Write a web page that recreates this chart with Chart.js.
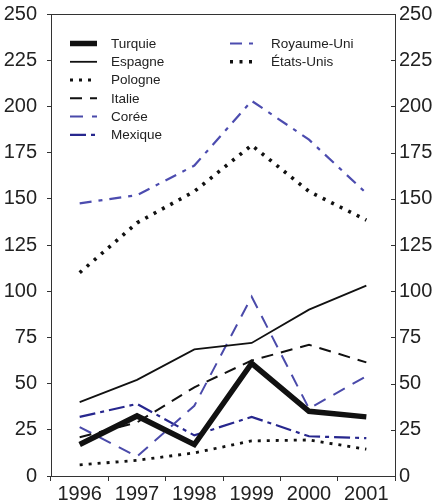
<!DOCTYPE html>
<html>
<head>
<meta charset="utf-8">
<script src="https://cdn.jsdelivr.net/npm/chart.js@4/dist/chart.umd.min.js"></script>
<style>
  html, body { margin: 0; padding: 0; background: #fff; }
  #wrap { position: relative; width: 436px; height: 504px; }
</style>
</head>
<body>
<div id="wrap"><canvas id="chart" width="436" height="504"></canvas></div>
<script>
(function(){
  'use strict';

  var years = ['1996', '1997', '1998', '1999', '2000', '2001'];
  var yTicks = [0, 25, 50, 75, 100, 125, 150, 175, 200, 225, 250];

  var turquie    = [17, 32.5, 17, 61, 35, 32];
  var espagne    = [40, 52, 68.5, 72, 90, 103];
  var pologne    = [6, 8.5, 12.5, 19, 19.5, 14.5];
  var italie     = [21, 29, 48, 62.5, 71, 61.5];
  var coree      = [26.5, 10.5, 38, 97, 36.5, 54];
  var mexique    = [32, 39, 22, 32, 21.5, 20.5];
  var royaumeUni = [147.5, 152, 168, 203, 182, 153];
  var etatsUnis  = [110, 137, 154, 179, 154, 138.5];

  var BLACK = '#111111';

  function line(label, data, color, width, dash, legendRow, legendCol){
    return {
      label: label,
      data: data,
      borderColor: color,
      backgroundColor: color,
      borderWidth: width,
      borderDash: dash,
      borderCapStyle: 'butt',
      borderJoinStyle: 'miter',
      pointRadius: 0,
      pointHoverRadius: 0,
      tension: 0,
      fill: false,
      legendRow: legendRow,
      legendCol: legendCol
    };
  }

  // legend inside the plot, two columns, plus the box round the plot
  var framePlugin = {
    id: 'frame',
    afterDatasetsDraw: function(chart){
      var ctx = chart.ctx;
      var a = chart.chartArea;
      ctx.save();
      ctx.strokeStyle = '#333';
      ctx.lineWidth = 1;
      ctx.setLineDash([]);
      ctx.strokeRect(a.left + 0.5, a.top + 0.5, a.right - a.left, a.bottom - a.top);

      // inward ticks on right axis
      var yr = chart.scales.y2;
      yr.ticks.forEach(function(t){
        var py = Math.round(yr.getPixelForValue(t.value)) + 0.5;
        ctx.beginPath();
        ctx.moveTo(a.right - 4, py);
        ctx.lineTo(a.right, py);
        ctx.stroke();
      });

      var rowY = [43.5, 61.8, 80, 98.3, 116.5, 134.8];
      var cols = [{x0: 70, x1: 97, tx: 111}, {x0: 230, x1: 256, tx: 271}];
      ctx.font = '13.5px "Liberation Sans", Arial, sans-serif';
      ctx.textBaseline = 'middle';
      ctx.textAlign = 'left';
      chart.data.datasets.forEach(function(ds){
        var c = cols[ds.legendCol];
        var y = rowY[ds.legendRow];
        ctx.strokeStyle = ds.borderColor;
        ctx.lineWidth = ds.borderWidth;
        ctx.lineCap = 'butt';
        ctx.setLineDash(ds.borderDash || []);
        ctx.beginPath();
        ctx.moveTo(c.x0, y);
        ctx.lineTo(c.x1, y);
        ctx.stroke();
        ctx.setLineDash([]);
        ctx.fillStyle = '#222';
        ctx.fillText(ds.label, c.tx, y + 0.5);
      });
      ctx.restore();
    }
  };

  function noPadY(s, w){
    s.width = w;
    s.paddingTop = 0;
    s.paddingBottom = 0;
  }

  function initChart(){
    if (!window.Chart) return;
    var ctx = document.getElementById('chart');
    var tickFont = { family: '"Liberation Sans", Arial, sans-serif', size: 20 };

    new Chart(ctx, {
      type: 'line',
      data: {
        labels: years,
        datasets: [
          line('Turquie', turquie, BLACK, 5.5, [], 0, 0),
          line('Espagne', espagne, BLACK, 1.8, [], 1, 0),
          line('Pologne', pologne, BLACK, 2.8, [3, 6], 2, 0),
          line('Italie', italie, BLACK, 2, [12, 8], 3, 0),
          line('Corée', coree, '#4a4aaa', 2, [13, 9], 4, 0),
          line('Mexique', mexique, '#27278e', 2.2, [16, 5, 4, 5], 5, 0),
          line('Royaume-Uni', royaumeUni, '#4c4caf', 2.2, [12, 7, 4, 7], 0, 1),
          line('États-Unis', etatsUnis, BLACK, 3.6, [3, 6.5], 1, 1)
        ]
      },
      options: {
        responsive: false,
        animation: false,
        layout: { padding: { top: 14, left: 0, right: 0, bottom: 0 } },
        plugins: {
          legend: { display: false },
          tooltip: { enabled: false }
        },
        scales: {
          x: {
            offset: true,
            grid: {
              offset: true,
              drawOnChartArea: false,
              drawTicks: true,
              tickLength: 5,
              color: '#333'
            },
            border: { display: true, color: '#333', width: 1 },
            ticks: { font: tickFont, color: '#222', padding: 1, maxRotation: 0 },
            afterFit: function(s){ s.height = 28; s.paddingLeft = 0; s.paddingRight = 0; }
          },
          y: {
            position: 'left',
            min: 0,
            max: 250,
            afterBuildTicks: function(s){ s.ticks = yTicks.map(function(v){ return { value: v }; }); },
            grid: { drawOnChartArea: false, drawTicks: true, tickLength: 4, color: '#333' },
            border: { display: true, color: '#333', width: 1 },
            ticks: { font: tickFont, color: '#222', padding: 10 },
            afterFit: function(s){ noPadY(s, 51); }
          },
          y2: {
            position: 'right',
            min: 0,
            max: 250,
            afterBuildTicks: function(s){ s.ticks = yTicks.map(function(v){ return { value: v }; }); },
            grid: { drawOnChartArea: false, drawTicks: false },
            border: { display: true, color: '#333', width: 1 },
            ticks: { font: tickFont, color: '#222', padding: 4 },
            afterFit: function(s){ noPadY(s, 41); }
          }
        }
      },
      plugins: [framePlugin]
    });
  }

  document.addEventListener('DOMContentLoaded', function(){
    initChart();
  });
})();
</script>
</body>
</html>
